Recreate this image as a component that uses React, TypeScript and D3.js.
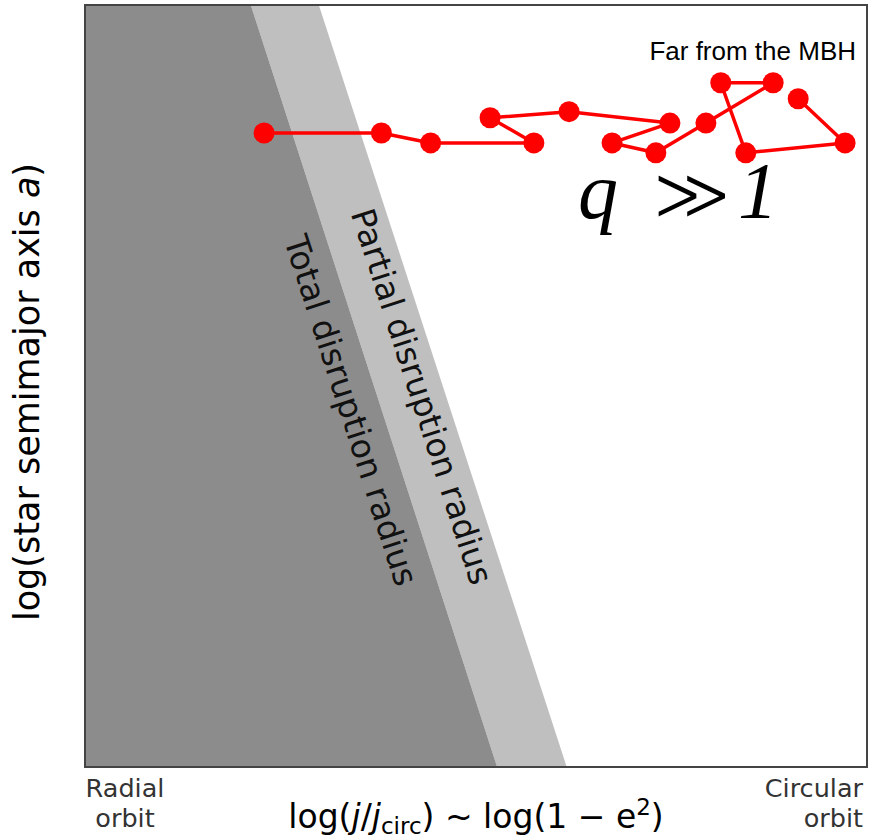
import * as d3 from "d3";
import React, { useRef, useEffect } from "react";

// orbit track (axes run 0..1, radial -> circular, small a -> large a)
const trackJ = [0.229, 0.379, 0.442, 0.574, 0.518, 0.619, 0.748, 0.674, 0.730, 0.794, 0.880, 0.813, 0.845, 0.972, 0.912];
const trackA = [0.832, 0.832, 0.819, 0.819, 0.852, 0.860, 0.845, 0.819, 0.806, 0.845, 0.898, 0.898, 0.806, 0.819, 0.877];

// disruption boundaries: j at a = 1 (top) and a = 0 (bottom)
const totalEdge = [0.212, 0.527];
const partialEdge = [0.299, 0.616];

const App: React.FC = () => {
  const svgRef = useRef<SVGSVGElement>(null);

  useEffect(() => {
    const svg = d3.select(svgRef.current);
    svg.selectAll("*").remove();

    const width = 874;
    const height = 839;
    const left = 85, right = 867, top = 5, bottom = 767;

    const x = d3.scaleLinear().domain([0, 1]).range([left, right]);
    const y = d3.scaleLinear().domain([0, 1]).range([bottom, top]);

    svg.attr("width", width).attr("height", height)
      .attr("viewBox", `0 0 ${width} ${height}`)
      .style("position", "absolute").style("left", 0).style("top", 0);

    svg.append("rect").attr("width", width).attr("height", height).attr("fill", "white");

    const area = d3.line<[number, number]>().x(d => x(d[0])).y(d => y(d[1]));

    svg.append("path")
      .attr("d", area([[totalEdge[0], 1], [partialEdge[0], 1], [partialEdge[1], 0], [totalEdge[1], 0]]) + "Z")
      .attr("fill", "#bfbfbf");
    svg.append("path")
      .attr("d", area([[0, 1], [totalEdge[0], 1], [totalEdge[1], 0], [0, 0]]) + "Z")
      .attr("fill", "#8c8c8c");

    const font = "DejaVu Sans, sans-serif";
    const angle = Math.atan2(y(0) - y(1), x(totalEdge[1]) - x(totalEdge[0])) * 180 / Math.PI;

    svg.append("text")
      .attr("transform", `translate(340,414) rotate(${angle})`)
      .attr("text-anchor", "middle")
      .attr("font-family", font).attr("font-size", 33)
      .attr("fill", "#111")
      .text("Total disruption radius");
    svg.append("text")
      .attr("transform", `translate(411,400) rotate(${angle})`)
      .attr("text-anchor", "middle")
      .attr("font-family", font).attr("font-size", 33)
      .attr("fill", "#111")
      .text("Partial disruption radius");

    const pts = trackJ.map((j, i) => [j, trackA[i]] as [number, number]);
    svg.append("path")
      .attr("d", area(pts))
      .attr("fill", "none").attr("stroke", "#ff0000").attr("stroke-width", 3.5)
      .attr("stroke-linejoin", "round");
    svg.append("g").attr("fill", "#ff0000")
      .selectAll("circle").data(pts).join("circle")
      .attr("cx", d => x(d[0])).attr("cy", d => y(d[1])).attr("r", 10.5);

    svg.append("text")
      .attr("x", 856).attr("y", 60).attr("text-anchor", "end")
      .attr("font-family", "Liberation Sans, Arial, sans-serif").attr("font-size", 26)
      .text("Far from the MBH");

    const q = svg.append("text")
      .attr("x", 578).attr("y", 218)
      .attr("font-family", "Liberation Serif, serif").attr("font-size", 80);
    q.append("tspan").attr("font-style", "italic").text("q");
    q.append("tspan").attr("dx", 34)
      .attr("font-family", "DejaVu Sans ExtraLight, DejaVu Sans, sans-serif").attr("font-weight", 200)
      .attr("font-size", 76).attr("dy", 2)
      .attr("stroke", "white").attr("stroke-width", 2.2)
      .text("≫");
    q.append("tspan").attr("dx", 6).attr("dy", -2).attr("font-style", "italic").text("1");

    svg.append("rect")
      .attr("x", left).attr("y", top).attr("width", right - left).attr("height", bottom - top)
      .attr("fill", "none").attr("stroke", "#444").attr("stroke-width", 2);

    svg.append("text")
      .attr("transform", `translate(39,${(top + bottom) / 2 + 6}) rotate(-90)`)
      .attr("text-anchor", "middle")
      .attr("font-family", font).attr("font-size", 35)
      .html('log(star semimajor axis <tspan font-style="italic">a</tspan>)');

    const xl = svg.append("text")
      .attr("x", 476).attr("y", 828).attr("text-anchor", "middle")
      .attr("font-family", font).attr("font-size", 33);
    xl.append("tspan").text("log(");
    xl.append("tspan").attr("font-style", "italic").text("j");
    xl.append("tspan").text("/");
    xl.append("tspan").attr("font-style", "italic").text("j");
    xl.append("tspan").attr("font-size", 23).attr("dy", 6).text("circ");
    xl.append("tspan").attr("dy", -6).text(") ~ log(1 − e");
    xl.append("tspan").attr("font-size", 23).attr("dy", -13).text("2");
    xl.append("tspan").attr("dy", 13).text(")");

    const small = { family: font, size: 25.5, fill: "#333" };
    svg.append("text").attr("x", 125).attr("y", 797).attr("text-anchor", "middle")
      .attr("font-family", small.family).attr("font-size", small.size).attr("fill", small.fill).text("Radial");
    svg.append("text").attr("x", 125).attr("y", 827).attr("text-anchor", "middle")
      .attr("font-family", small.family).attr("font-size", small.size).attr("fill", small.fill).text("orbit");
    svg.append("text").attr("x", 863).attr("y", 797).attr("text-anchor", "end")
      .attr("font-family", small.family).attr("font-size", small.size).attr("fill", small.fill).text("Circular");
    svg.append("text").attr("x", 863).attr("y", 827).attr("text-anchor", "end")
      .attr("font-family", small.family).attr("font-size", small.size).attr("fill", small.fill).text("orbit");
  }, []);

  return <svg ref={svgRef}></svg>;
};

export default App;
